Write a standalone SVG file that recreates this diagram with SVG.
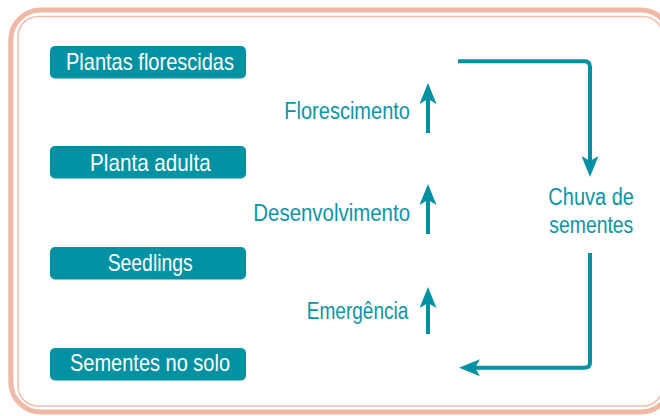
<svg xmlns="http://www.w3.org/2000/svg" width="660" height="416" viewBox="0 0 660 416">
  <style>
    .box { fill: #0092A2; }
    .boxtext { font-family: "Liberation Sans", Arial, sans-serif; font-size: 24px; fill: #ffffff; }
    .label { font-family: "Liberation Sans", Arial, sans-serif; font-size: 23px; fill: #0D95A4; }
    .conn { fill: none; stroke: #0092A2; stroke-width: 4; stroke-linejoin: round; }
  </style>
  <defs>
    <marker id="head" markerUnits="userSpaceOnUse" markerWidth="21" markerHeight="17" viewBox="0 0 21 17" refX="7" refY="8.5" orient="auto">
      <path d="M0,0 L21,8.5 L0,17 L5,8.5 Z" fill="#0092A2"/>
    </marker>
  </defs>
  <rect width="660" height="416" fill="#ffffff"/>
  <g id="frame">
    <rect x="10.8" y="10" width="660" height="402" rx="30" ry="30" fill="none" stroke="#F0B8A5" stroke-width="5"/>
    <rect x="18" y="16.5" width="645" height="389.5" rx="20" ry="20" fill="none" stroke="#F2BFAD" stroke-width="1.6"/>
  </g>
  <g id="connectors">
    <line class="conn" x1="428" y1="133" x2="428" y2="97" marker-end="url(#head)"/>
    <line class="conn" x1="428" y1="234" x2="428" y2="198" marker-end="url(#head)"/>
    <line class="conn" x1="428" y1="334" x2="428" y2="301" marker-end="url(#head)"/>
    <path class="conn" d="M458,61.3 H584.5 Q590,61.3 590,66.8 V163" marker-end="url(#head)"/>
    <path class="conn" d="M590,253 V362.2 Q590,367.7 584.5,367.7 H473" marker-end="url(#head)"/>
  </g>
  <g id="node-plantas-florescidas">
    <rect class="box" x="50" y="46" width="196" height="32.5" rx="5"/>
    <text class="boxtext" x="66" y="70" textLength="168" lengthAdjust="spacingAndGlyphs">Plantas florescidas</text>
  </g>
  <g id="node-planta-adulta">
    <rect class="box" x="50" y="146" width="196" height="32.5" rx="5"/>
    <text class="boxtext" x="90" y="170.7" textLength="120.7" lengthAdjust="spacingAndGlyphs">Planta adulta</text>
  </g>
  <g id="node-seedlings">
    <rect class="box" x="50" y="247" width="196" height="32.5" rx="5"/>
    <text class="boxtext" x="107.7" y="270.5" textLength="85" lengthAdjust="spacingAndGlyphs">Seedlings</text>
  </g>
  <g id="node-sementes-no-solo">
    <rect class="box" x="50" y="348" width="196" height="32.5" rx="5"/>
    <text class="boxtext" x="70" y="370.7" textLength="160" lengthAdjust="spacingAndGlyphs">Sementes no solo</text>
  </g>
  <g id="label-florescimento">
    <text class="label" x="284.3" y="119.3" textLength="125.7" lengthAdjust="spacingAndGlyphs">Florescimento</text>
  </g>
  <g id="label-desenvolvimento">
    <text class="label" x="253.3" y="220.7" textLength="156.7" lengthAdjust="spacingAndGlyphs">Desenvolvimento</text>
  </g>
  <g id="label-emergencia">
    <text class="label" x="306.7" y="319.3" textLength="101.7" lengthAdjust="spacingAndGlyphs">Emergência</text>
  </g>
  <g id="label-chuva-de-sementes">
    <text class="label" x="548.3" y="205" textLength="85.7" lengthAdjust="spacingAndGlyphs">Chuva de</text>
    <text class="label" x="549.3" y="232.7" textLength="84" lengthAdjust="spacingAndGlyphs">sementes</text>
  </g>
</svg>
